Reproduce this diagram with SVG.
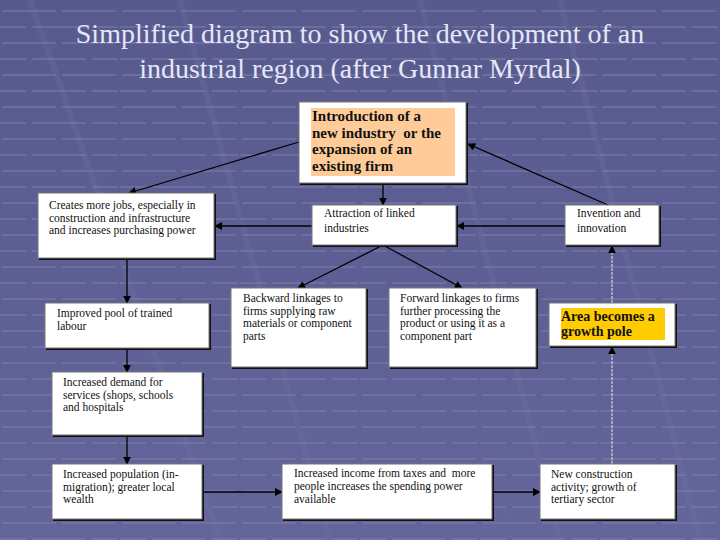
<svg xmlns="http://www.w3.org/2000/svg" width="720" height="540" viewBox="0 0 720 540">
<defs>
<linearGradient id="bg" x1="0" y1="0" x2="0" y2="1">
<stop offset="0" stop-color="#585a8e"/>
<stop offset="1" stop-color="#63659b"/>
</linearGradient>
<pattern id="bricks" width="120" height="32" patternUnits="userSpaceOnUse">
<rect x="2" y="10" width="54" height="2" fill="#8082b2" opacity="0.45"/>
<rect x="62" y="10" width="54" height="2" fill="#8082b2" opacity="0.45"/>
<rect x="32" y="26" width="54" height="2" fill="#8082b2" opacity="0.45"/>
<rect x="92" y="26" width="26" height="2" fill="#8082b2" opacity="0.45"/>
<rect x="0" y="26" width="26" height="2" fill="#8082b2" opacity="0.45"/>
</pattern>
<marker id="ah" viewBox="0 0 10 10" refX="9" refY="5" markerWidth="8" markerHeight="8" orient="auto" markerUnits="userSpaceOnUse">
<path d="M0,0 L10,5 L0,10 z" fill="#000"/>
</marker>
</defs>
<style>
.box{fill:#ffffff;stroke:#777;stroke-width:1}
.sh{fill:#111}
.t{font-family:'Liberation Serif','DejaVu Serif',serif;font-size:11.5px;fill:#111}
.tb{font-family:'Liberation Serif','DejaVu Serif',serif;font-weight:bold;fill:#111}
.title{font-family:'Liberation Serif','DejaVu Serif',serif;font-size:28px;fill:#e2e8f8;text-anchor:middle}
.c{stroke:#000;stroke-width:1.3;fill:none;marker-end:url(#ah)}
.cw{stroke:#e8e8e8;stroke-width:1;stroke-dasharray:3 1;fill:none;marker-end:url(#ah)}
</style>
<rect width="720" height="540" fill="url(#bg)"/>
<rect width="720" height="540" fill="url(#bricks)"/>
<g stroke="#7d7fb0" stroke-width="6" opacity="0.18">
<line x1="30" y1="0" x2="220" y2="540"/>
<line x1="180" y1="0" x2="330" y2="540"/>
<line x1="420" y1="0" x2="560" y2="540"/>
<line x1="560" y1="0" x2="700" y2="540"/>
</g>

<text class="title" x="360" y="43">Simplified diagram to show the development of an</text>
<text class="title" x="360" y="78">industrial region (after Gunnar Myrdal)</text>

<g id="connectors">
<line class="c" x1="299" y1="142" x2="129" y2="193"/>
<line class="c" x1="608" y1="205" x2="468" y2="144"/>
<line class="c" x1="383" y1="183" x2="383" y2="205"/>
<line class="c" x1="312" y1="226" x2="215" y2="226"/>
<line class="c" x1="565" y1="226" x2="457" y2="226"/>
<line class="c" x1="383" y1="245" x2="298" y2="288"/>
<line class="c" x1="383" y1="245" x2="462" y2="288"/>
<line class="c" x1="127" y1="258" x2="127" y2="303"/>
<line class="c" x1="127" y1="348" x2="127" y2="372"/>
<line class="c" x1="127" y1="435" x2="127" y2="464"/>
<line class="c" x1="202" y1="492" x2="282" y2="492"/>
<line class="c" x1="492" y1="492" x2="540" y2="492"/>
<line class="cw" x1="612" y1="464" x2="612" y2="347"/>
<line class="cw" x1="612" y1="303" x2="612" y2="246"/>
</g>

<g id="n-intro">
<rect class="sh" x="300" y="103" width="168" height="82"/>
<rect class="box" x="299" y="102" width="167" height="81"/>
<rect x="311" y="108" width="144" height="68" fill="#ffcc99"/>
<text class="tb" font-size="15" xml:space="preserve"><tspan x="312" y="121">Introduction of a</tspan><tspan x="312" y="137.5">new industry  or the</tspan><tspan x="312" y="154">expansion of an</tspan><tspan x="312" y="170.5">existing firm</tspan></text>
</g>

<g id="n-jobs">
<rect class="sh" x="39" y="194" width="177" height="66"/>
<rect class="box" x="38" y="193" width="176" height="65"/>
<text class="t"><tspan x="49" y="209">Creates more jobs, especially in</tspan><tspan x="49" y="221.5">construction and infrastructure</tspan><tspan x="49" y="234">and increases purchasing power</tspan></text>
</g>

<g id="n-attraction">
<rect class="sh" x="313" y="206" width="145" height="41"/>
<rect class="box" x="312" y="205" width="144" height="40"/>
<text class="t"><tspan x="324" y="217">Attraction of linked</tspan><tspan x="324" y="232">industries</tspan></text>
</g>

<g id="n-invention">
<rect class="sh" x="566" y="206" width="95" height="41"/>
<rect class="box" x="565" y="205" width="94" height="40"/>
<text class="t"><tspan x="577" y="217">Invention and</tspan><tspan x="577" y="232">innovation</tspan></text>
</g>

<g id="n-labour">
<rect class="sh" x="46" y="304" width="165" height="46"/>
<rect class="box" x="45" y="303" width="164" height="45"/>
<text class="t"><tspan x="57" y="317">Improved pool of trained</tspan><tspan x="57" y="330">labour</tspan></text>
</g>

<g id="n-backward">
<rect class="sh" x="232" y="289" width="136" height="80"/>
<rect class="box" x="231" y="288" width="135" height="79"/>
<text class="t"><tspan x="243" y="302">Backward linkages to</tspan><tspan x="243" y="314.5">firms supplying raw</tspan><tspan x="243" y="327">materials or component</tspan><tspan x="243" y="339.5">parts</tspan></text>
</g>

<g id="n-forward">
<rect class="sh" x="390" y="289" width="148" height="80"/>
<rect class="box" x="389" y="288" width="147" height="79"/>
<text class="t"><tspan x="400" y="302">Forward linkages to firms</tspan><tspan x="400" y="314.5">further processing the</tspan><tspan x="400" y="327">product or using it as a</tspan><tspan x="400" y="339.5">component part</tspan></text>
</g>

<g id="n-growth">
<rect class="sh" x="550" y="304" width="127" height="44"/>
<rect class="box" x="549" y="303" width="126" height="43"/>
<rect x="561" y="308" width="104" height="32" fill="#ffcc00"/>
<text class="tb" font-size="14"><tspan x="561" y="321">Area becomes a</tspan><tspan x="561" y="336">growth pole</tspan></text>
</g>

<g id="n-demand">
<rect class="sh" x="53" y="373" width="151" height="64"/>
<rect class="box" x="52" y="372" width="150" height="63"/>
<text class="t"><tspan x="63" y="386">Increased demand for</tspan><tspan x="63" y="398.5">services (shops, schools</tspan><tspan x="63" y="411">and hospitals</tspan></text>
</g>

<g id="n-population">
<rect class="sh" x="53" y="465" width="151" height="56"/>
<rect class="box" x="52" y="464" width="150" height="55"/>
<text class="t"><tspan x="63" y="478">Increased population (in-</tspan><tspan x="63" y="490.5">migration); greater local</tspan><tspan x="63" y="503">wealth</tspan></text>
</g>

<g id="n-income">
<rect class="sh" x="283" y="465" width="211" height="56"/>
<rect class="box" x="282" y="464" width="210" height="55"/>
<text class="t" xml:space="preserve"><tspan x="294" y="477">Increased income from taxes and  more</tspan><tspan x="294" y="490">people increases the spending power</tspan><tspan x="294" y="503">available</tspan></text>
</g>

<g id="n-construction">
<rect class="sh" x="541" y="465" width="136" height="56"/>
<rect class="box" x="540" y="464" width="135" height="55"/>
<text class="t"><tspan x="551" y="478">New construction</tspan><tspan x="551" y="490.5">activity; growth of</tspan><tspan x="551" y="503">tertiary sector</tspan></text>
</g>
</svg>
